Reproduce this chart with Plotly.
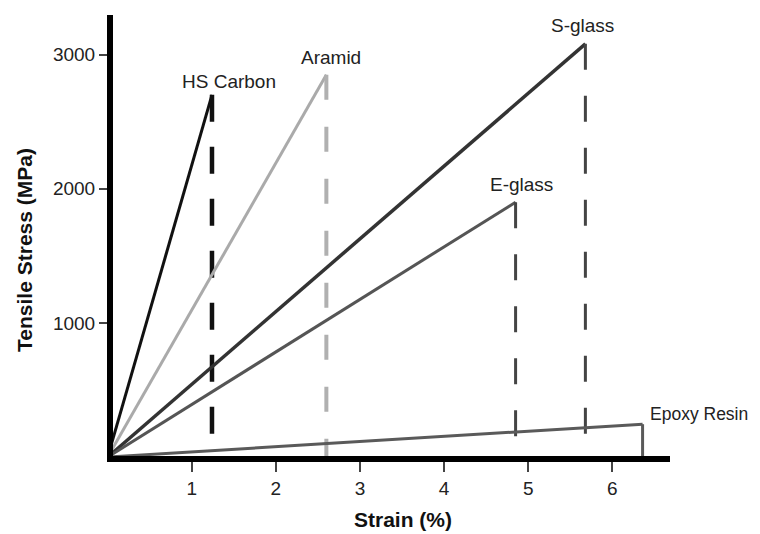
import plotly.graph_objects as go

# Data
materials = ["HS Carbon", "Aramid", "S-glass", "E-glass", "Epoxy Resin"]
fail_strain = [1.24, 2.6, 5.68, 4.85, 6.36]     # Strain (%) at failure
fail_stress = [2700, 2850, 3080, 1900, 245]     # Tensile stress (MPa) at failure
x_ticks = [1, 2, 3, 4, 5, 6]
y_ticks = [1000, 2000, 3000]
x_title = "Strain (%)"
y_title = "Tensile Stress (MPa)"

# Styles
line_colors = ["#111111", "#aaaaaa", "#333333", "#555555", "#5a5a5a"]
line_widths = [3, 3, 3.5, 3, 3]
drop_colors = ["#111111", "#b0b0b0", "#444444", "#444444", "#5a5a5a"]
drop_widths = [4.5, 4, 3, 3, 3]
drop_dash = ["27px,25px", "25px,27px", "26px,26px", "26px,26px", "solid"]
label_shift = [(17, 13, "center", 19), (5, 17, "center", 19), (-3, 18, "center", 19),
               (6, 18, "center", 19), (5, 10, "left", 17.5)]

FONT = "Liberation Sans, Arial, sans-serif"

fig = go.Figure()
for i, m in enumerate(materials):
    fig.add_trace(go.Scatter(
        x=[0, fail_strain[i]], y=[0, fail_stress[i]], mode="lines",
        line=dict(color=line_colors[i], width=line_widths[i]),
        showlegend=False, hoverinfo="skip"))
    fig.add_trace(go.Scatter(
        x=[fail_strain[i], fail_strain[i]], y=[fail_stress[i], 0], mode="lines",
        line=dict(color=drop_colors[i], width=drop_widths[i], dash=drop_dash[i]),
        showlegend=False, hoverinfo="skip"))
    dx, dy, xa, fs = label_shift[i]
    fig.add_annotation(x=fail_strain[i], y=fail_stress[i], text=m, showarrow=False,
                       xanchor=xa, yanchor="middle", xshift=dx, yshift=dy,
                       font=dict(family=FONT, size=fs, color="#222222"))

# Axis titles
fig.add_annotation(xref="paper", yref="paper", x=0.5206, y=-0.145, text="<b>" + x_title + "</b>",
                   showarrow=False, xanchor="center", yanchor="middle",
                   font=dict(family=FONT, size=21, color="#111111"))
fig.add_annotation(xref="paper", yref="paper", x=-0.16, y=0.467, text="<b>" + y_title + "</b>",
                   showarrow=False, xanchor="center", yanchor="middle", textangle=-90,
                   font=dict(family=FONT, size=21, color="#111111"))

# page body has an 8px margin, so the figure is 8px smaller and margins offset
fig.update_layout(
    width=752, height=526,
    margin=dict(l=105, r=90, t=7, b=78, autoexpand=False),
    paper_bgcolor="white", plot_bgcolor="white",
    font=dict(family=FONT, size=19, color="#222222"),
)
fig.update_xaxes(
    range=[0.063, 6.686], tickvals=x_ticks, ticktext=[str(v) for v in x_ticks],
    showgrid=False, zeroline=False, showline=True, linecolor="black", linewidth=6,
    ticks="outside", ticklen=10, tickwidth=1.5, tickcolor="#444444", automargin=False,
    tickfont=dict(family=FONT, size=19, color="#222222"),
)
fig.update_yaxes(
    range=[8, 3295], tickvals=y_ticks, ticktext=[str(v) for v in y_ticks],
    showgrid=False, zeroline=False, showline=True, linecolor="black", linewidth=6,
    ticks="outside", ticklen=8, tickwidth=1.5, tickcolor="#444444", automargin=False,
    tickfont=dict(family=FONT, size=19, color="#222222"),
)

fig.write_html("out.html")
